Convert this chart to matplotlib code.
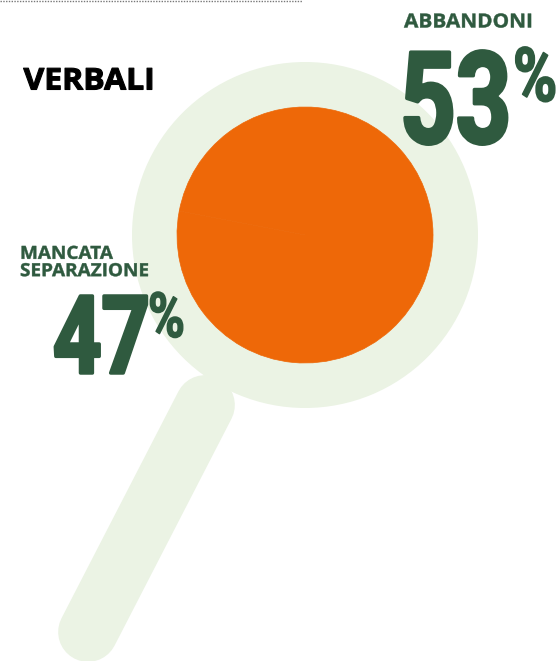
import matplotlib
matplotlib.use("Agg")
import matplotlib.pyplot as plt
import matplotlib.patheffects as pe
from matplotlib.transforms import Affine2D

title = "VERBALI"
labels = ["ABBANDONI", "MANCATA\nSEPARAZIONE"]
values = [53, 47]

GREEN = "#2f5a3f"
PALE = "#ebf3e4"
ORANGE = "#ee6808"


class Squeeze(pe.AbstractPathEffect):
    # no condensed font installed, so scale the glyphs sideways from the text origin
    def __init__(self, sx, stroke=0.0):
        super().__init__()
        self.sx = sx
        self.stroke = stroke

    def draw_path(self, renderer, gc, tpath, affine, rgbFace=None):
        x0 = affine.get_matrix()[0, 2]
        aff = affine + Affine2D().translate(-x0, 0).scale(self.sx, 1).translate(x0, 0)
        gc0 = renderer.new_gc()
        gc0.copy_properties(gc)
        gc0.set_foreground(rgbFace)
        gc0.set_linewidth(self.stroke)
        gc0.set_joinstyle("round")
        renderer.draw_path(gc0, tpath, aff, rgbFace)
        gc0.restore()


fig = plt.figure(figsize=(5.6, 6.61), dpi=100)
ax = fig.add_axes([0, 0, 1, 1])

# lens, outer ring and handle
ax.pie([1], colors=[PALE], radius=173, center=(305, 235), frame=True)
ax.plot([205, 88], [405, 632], color=PALE, lw=43, solid_capstyle="round", zorder=0)
ax.pie(values, colors=[ORANGE, ORANGE], radius=128, center=(305, 235), frame=True,
       wedgeprops=dict(linewidth=0.5, edgecolor=ORANGE))

ax.plot([0, 302], [0.8, 0.8], color="#777777", lw=1, ls=(0, (1, 1)))

ax.set_xlim(0, 560)
ax.set_ylim(661, 0)
ax.set_aspect("auto")
ax.axis("off")

ax.text(23.5, 89.5, title, fontsize=21.5, fontweight="bold", family="Open Sans", color="black",
        path_effects=[Squeeze(1.07, 0.8)])
ax.text(404, 27.5, labels[0], fontsize=14, fontweight="bold", family="Open Sans", color=GREEN,
        path_effects=[Squeeze(1.07, 0.3)])
ax.text(20, 262.5, labels[1], fontsize=13, fontweight="bold", family="Open Sans", color=GREEN,
        va="center", linespacing=0.95, path_effects=[Squeeze(1.05, 0.3)])

big = "Roboto"
ax.text(400, 143, str(values[0]), fontsize=92, fontweight="bold", family=big, color=GREEN,
        path_effects=[Squeeze(0.76, 2.5)])
ax.text(513, 101, "%", fontsize=54, fontweight="bold", family=big, color=GREEN,
        path_effects=[Squeeze(0.8, 1.2)])
ax.text(53, 373, str(values[1]), fontsize=78, fontweight="bold", family=big, color=GREEN,
        path_effects=[Squeeze(0.78, 2.5)])
ax.text(148, 337, "%", fontsize=45, fontweight="bold", family=big, color=GREEN,
        path_effects=[Squeeze(0.8, 1.0)])

fig.savefig("out.png", dpi=100, facecolor="white")
